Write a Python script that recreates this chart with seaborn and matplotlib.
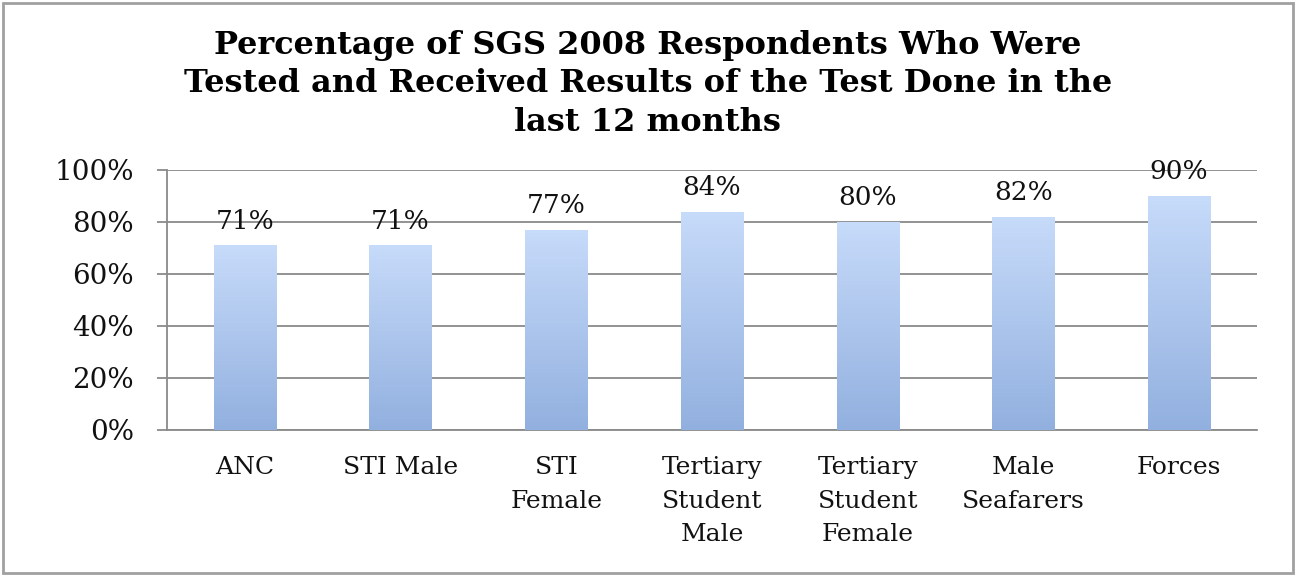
import numpy as np
import pandas as pd
import matplotlib
matplotlib.use("Agg")
import matplotlib.pyplot as plt
import seaborn as sns
from matplotlib.colors import LinearSegmentedColormap
from matplotlib.patches import Rectangle

categories = ["ANC", "STI Male", "STI\nFemale", "Tertiary\nStudent\nMale",
              "Tertiary\nStudent\nFemale", "Male\nSeafarers", "Forces"]
values = [71, 71, 77, 84, 80, 82, 90]
value_labels = ["71%", "71%", "77%", "84%", "80%", "82%", "90%"]
yticks = [0, 20, 40, 60, 80, 100]
ytick_labels = ["0%", "20%", "40%", "60%", "80%", "100%"]
title = ("Percentage of SGS 2008 Respondents Who Were\n"
         "Tested and Received Results of the Test Done in the\n"
         "last 12 months")

sns.set_theme(style="white")
plt.rcParams["font.family"] = ["DejaVu Serif"]

df = pd.DataFrame({"category": categories, "value": values})

fig = plt.figure(figsize=(12.96, 5.76), dpi=100)
ax = fig.add_axes([167/1296, 1-430/576, (1257-167)/1296, 260/576])

sns.barplot(data=df, x="category", y="value", ax=ax, color="#a9c4ee",
            width=0.4, saturation=1, zorder=3)

grid_c = "#8a8a8a"
ax.set_ylim(0, 100)
ax.set_xlim(-0.5, len(categories) - 0.5)
ax.set_yticks(yticks)
ax.set_yticklabels(ytick_labels)
ax.yaxis.grid(True, color=grid_c, linewidth=1.3, zorder=0)
ax.set_axisbelow(True)
ax.set_xticks(np.arange(len(categories)))
ax.set_xticklabels(categories, linespacing=1.58)
ax.set_xticks(np.arange(-0.5, len(categories), 1.0), minor=True)
ax.tick_params(axis="x", which="major", length=0, pad=19, labelsize=18, colors="#111111")
ax.tick_params(axis="x", which="minor", length=7, width=1.3, color=grid_c, direction="out")
ax.tick_params(axis="y", length=7, width=1.3, color=grid_c, pad=17, labelsize=20, colors="#111111", left=True)
for s in ["top", "right"]:
    ax.spines[s].set_visible(False)
for s in ["left", "bottom"]:
    ax.spines[s].set_color(grid_c)
    ax.spines[s].set_linewidth(1.3)
ax.set_xlabel("")
ax.set_ylabel("")

# gradient fill on bars
cmap = LinearSegmentedColormap.from_list("g", ["#92b0df", "#c7dbfa"])
grad = np.linspace(0, 1, 256).reshape(-1, 1)
for p in ax.patches:
    x0, y0 = p.get_x(), p.get_y()
    w, h = p.get_width(), p.get_height()
    im = ax.imshow(grad, cmap=cmap, aspect="auto", origin="lower",
                   extent=[x0, x0 + w, y0, y0 + h], zorder=3)
    im.set_clip_path(p)
    p.set_facecolor("none")
    p.set_edgecolor("none")
ax.set_ylim(0, 100)
ax.set_xlim(-0.5, len(categories) - 0.5)

for i, (v, lab) in enumerate(zip(values, value_labels)):
    ax.annotate(lab, (i, v), xytext=(0, 8.5), textcoords="offset points",
                ha="center", va="bottom", fontsize=19, color="#111111", zorder=5)

fig.text(0.5, 1 - 84/576, title, ha="center", va="center", fontsize=23,
         fontweight="bold", linespacing=1.33, color="#000000")

fig.patches.append(Rectangle((3/1296, 3/576), 1 - 6/1296, 1 - 6/576,
                             transform=fig.transFigure, fill=False,
                             edgecolor="#a0a0a0", linewidth=2))

fig.savefig("out.png", dpi=100)
